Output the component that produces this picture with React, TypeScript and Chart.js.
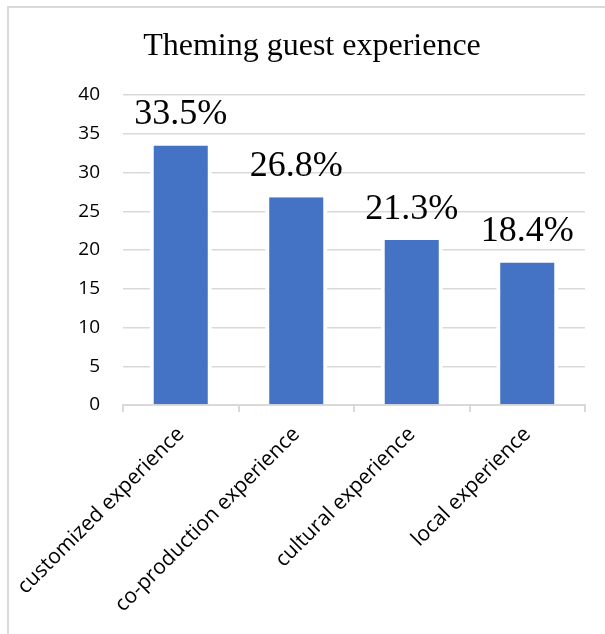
import React, { useEffect, useRef } from "react";
import { Chart, registerables } from "chart.js";

Chart.register(...registerables);

const TITLE = "Theming guest experience";
const categories = [
  "customized experience",
  "co-production experience",
  "cultural experience",
  "local experience",
];
const values = [33.5, 26.8, 21.3, 18.4];
const labelTexts = ["33.5%", "26.8%", "21.3%", "18.4%"];
const yMin = 0;
const yMax = 40;
const yStep = 5;

const SERIF = "'Liberation Serif', 'Times New Roman', serif";
const SANS = "'Open Sans', 'Noto Sans', sans-serif";

const framePlugin = {
  id: "frame",
  beforeDraw(chart: any) {
    const ctx = chart.ctx;
    ctx.save();
    ctx.fillStyle = "#ffffff";
    ctx.fillRect(0, 0, chart.width, chart.height);
    ctx.strokeStyle = "#d9d9d9";
    ctx.lineWidth = 2;
    ctx.beginPath();
    ctx.moveTo(8, chart.height);
    ctx.lineTo(8, 7);
    ctx.lineTo(chart.width, 7);
    ctx.stroke();
    ctx.fillStyle = "#000000";
    ctx.font = `32px ${SERIF}`;
    ctx.textAlign = "center";
    ctx.textBaseline = "alphabetic";
    ctx.fillText(TITLE, 312, 55);
    ctx.restore();
  },
};

const valueLabelPlugin = {
  id: "valueLabels",
  afterDatasetsDraw(chart: any) {
    const ctx = chart.ctx;
    const meta = chart.getDatasetMeta(0);
    ctx.save();
    ctx.fillStyle = "#000000";
    ctx.font = `36px ${SERIF}`;
    ctx.textAlign = "center";
    ctx.textBaseline = "alphabetic";
    meta.data.forEach((bar: any, i: number) => {
      ctx.fillText(labelTexts[i], bar.x, bar.y - 21);
    });
    ctx.restore();
  },
};

export default function App() {
  const ref = useRef<HTMLCanvasElement | null>(null);
  useEffect(() => {
    if (!ref.current) return;
    const chart = new Chart(ref.current, {
      type: "bar",
      data: {
        labels: categories,
        datasets: [
          {
            data: values,
            backgroundColor: "#4472C4",
            borderColor: "#ffffff",
            borderWidth: { left: 4, right: 4, top: 0, bottom: 0 },
            borderSkipped: false,
            barPercentage: 0.537,
            categoryPercentage: 1,
          },
        ],
      },
      options: {
        animation: false,
        responsive: false,
        maintainAspectRatio: false,
        devicePixelRatio: 1,
        layout: {
          autoPadding: false,
          padding: { left: 0, top: 95, right: 20, bottom: 0 },
        },
        plugins: {
          legend: { display: false },
          title: { display: false },
          tooltip: { enabled: false },
        },
        scales: {
          x: {
            afterFit: (s: any) => {
              s.height = 229;
              s.paddingLeft = 0;
              s.paddingRight = 0;
            },
            grid: {
              offset: true,
              display: true,
              drawOnChartArea: false,
              drawTicks: true,
              tickLength: 7,
              color: "#d9d9d9",
              lineWidth: 2,
            },
            border: { display: true, color: "#d9d9d9", width: 2 },
            ticks: {
              minRotation: 45,
              maxRotation: 45,
              autoSkip: false,
              padding: 10,
              color: "#000000",
              font: { family: SANS, size: 21 },
            },
          },
          y: {
            min: yMin,
            max: yMax,
            afterFit: (s: any) => {
              s.width = 123;
            },
            grid: {
              color: "#d9d9d9",
              lineWidth: 1.5,
              drawTicks: false,
            },
            border: { display: false },
            ticks: {
              stepSize: yStep,
              padding: 23,
              color: "#000000",
              font: { family: SANS, size: 19 },
            },
          },
        },
      },
      plugins: [framePlugin, valueLabelPlugin],
    });
    return () => chart.destroy();
  }, []);
  return (
    <div style={{ position: "absolute", left: 0, top: 0 }}>
      <canvas ref={ref} width={605} height={634} style={{ display: "block" }} />
    </div>
  );
}
